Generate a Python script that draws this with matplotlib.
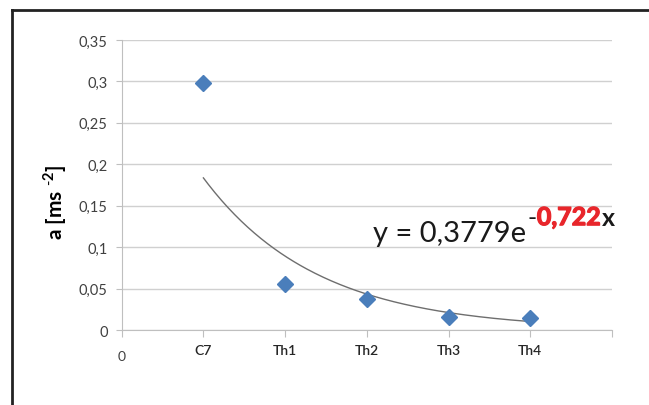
import numpy as np
from matplotlib import pyplot as plt
from matplotlib.lines import Line2D
import matplotlib.patheffects as pe

## Data ##
categories = ["C7", "Th1", "Th2", "Th3", "Th4"]
accel = [0.298, 0.056, 0.038, 0.016, 0.015]
fit_a = 0.3779
fit_b = -0.722
y_ticks = [0, 0.05, 0.1, 0.15, 0.2, 0.25, 0.3, 0.35]
y_tick_labels = ["0", "0,05", "0,1", "0,15", "0,2", "0,25", "0,3", "0,35"]

plt.rcParams['font.family'] = ['Lato', 'DejaVu Sans']
plt.rcParams['mathtext.fontset'] = 'custom'
plt.rcParams['mathtext.rm'] = 'Lato'
plt.rcParams['mathtext.bf'] = 'Lato:bold'

fig = plt.figure(figsize=(6.49, 4.06), dpi=100)
ax = fig.add_axes([0.1875, 0.1847, 0.943 - 0.1875, 0.899 - 0.1847])

# black frame (top and left edges of the original box)
fig.add_artist(Line2D([12 / 649, 1.0], [1 - 11 / 406, 1 - 11 / 406], color='#222222', lw=2))
fig.add_artist(Line2D([12 / 649, 12 / 649], [0, 1 - 11 / 406], color='#222222', lw=2))

x = np.arange(1, len(categories) + 1)
ax.plot(x, accel, linestyle='none', marker='D', markersize=8, color='#4a7ebb', zorder=3)

# exponential trendline
xs = np.linspace(1, 5, 200)
ax.plot(xs, fit_a * np.exp(fit_b * xs), color='#6e6e6e', lw=1.0, zorder=2)

ax.set_xlim(0, 6)
ax.set_ylim(0, 0.35)
ax.set_yticks(y_ticks)
ax.set_yticklabels(y_tick_labels)
ax.set_xticks(range(0, 7))
ax.set_xticklabels(["0"] + categories + [""])
ax.yaxis.grid(True, color='#d0d0d0', lw=1)
ax.set_axisbelow(True)

for s in ['top', 'right']:
    ax.spines[s].set_visible(False)
for s in ['left', 'bottom']:
    ax.spines[s].set_color('#bfbfbf')
ax.tick_params(axis='y', colors='#bfbfbf', length=4, labelcolor='#404040', labelsize=10.5, pad=6)
ax.tick_params(axis='x', colors='#bfbfbf', length=5, labelcolor='#262626', labelsize=10, pad=5)
for lbl in ax.get_xticklabels()[1:]:
    lbl.set_fontweight('semibold')
ax.get_xticklabels()[0].set_color('#404040')
ax.get_xticklabels()[0].set_y(-0.02)

ax.set_ylabel(r'a [ms $^{\mathbf{\text{-}2}}$]', fontsize=15, fontweight='bold')
ax.yaxis.set_label_coords(-0.108, 0.443)

# equation label
thick = [pe.withStroke(linewidth=0.9, foreground='#e8262b')]
t1 = ax.text(0.513, 0.307, "y = 0,3779e", transform=ax.transAxes,
             fontsize=21, color='#1a1a1a', ha='left', va='baseline')
t2 = ax.annotate("-", xy=(1, 0), xycoords=t1, xytext=(1, 15), textcoords='offset points',
                 fontsize=18, color='#1a1a1a', va='baseline')
t3 = ax.annotate("0,722", xy=(1, 0), xycoords=t2, xytext=(0, 0), textcoords='offset points',
                 fontsize=18, color='#e8262b', fontweight='bold', va='bottom',
                 path_effects=thick)
t4 = ax.annotate("x", xy=(1, 0), xycoords=t3, xytext=(1, 0), textcoords='offset points',
                 fontsize=18, color='#1a1a1a', fontweight='bold', va='bottom')

fig.savefig('out.png', dpi=100)
